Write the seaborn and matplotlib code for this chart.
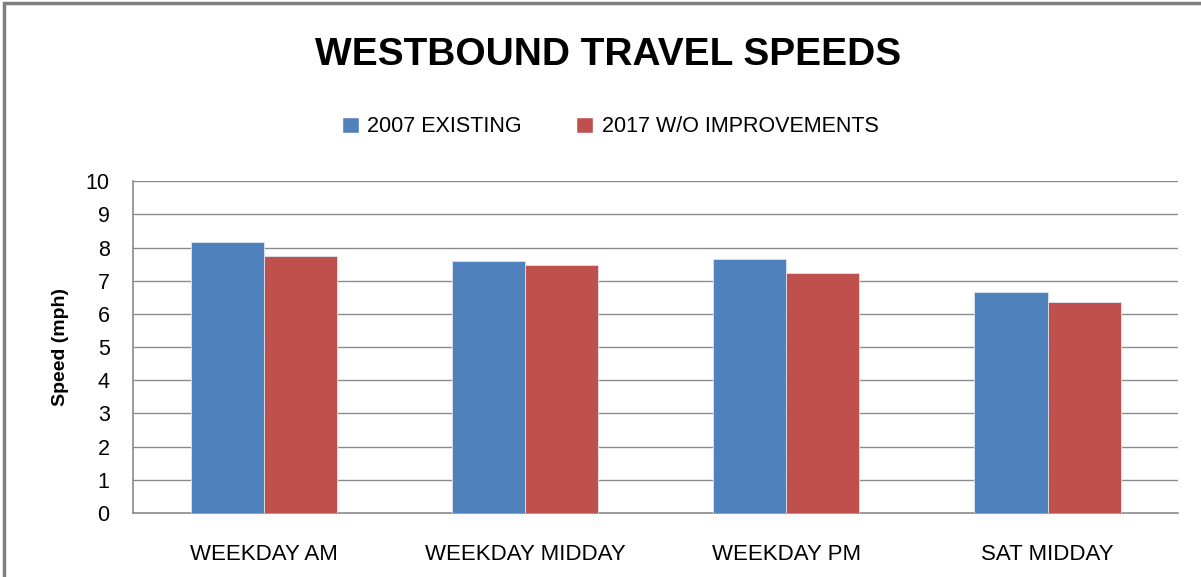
import numpy as np
import pandas as pd
import matplotlib
matplotlib.use("Agg")
import matplotlib.pyplot as plt
import seaborn as sns
from matplotlib.patches import Rectangle

# chart values
periods = ["WEEKDAY AM", "WEEKDAY MIDDAY", "WEEKDAY PM", "SAT MIDDAY"]
series_names = ["2007 EXISTING", "2017 W/O IMPROVEMENTS"]
speeds_2007 = [8.17, 7.59, 7.66, 6.66]
speeds_2017 = [7.75, 7.47, 7.24, 6.36]
y_ticks = list(range(0, 11))

colors = ["#4F81BD", "#C0504D"]
grid_col = "#8C8C8C"

df = pd.DataFrame({
    "Period": periods * 2,
    "Series": [series_names[0]] * len(periods) + [series_names[1]] * len(periods),
    "Speed": speeds_2007 + speeds_2017,
})

sns.set_style("white")
plt.rcParams["font.family"] = ["Liberation Sans", "DejaVu Sans"]
plt.rcParams["text.color"] = "black"
plt.rcParams["xtick.color"] = "black"
plt.rcParams["ytick.color"] = "black"
plt.rcParams["axes.labelcolor"] = "black"

fig = plt.figure(figsize=(12.01, 5.77), dpi=100)
ax = fig.add_axes([0.111, 0.111, 0.870, 0.575])

sns.barplot(data=df, x="Period", y="Speed", hue="Series", palette=colors,
            saturation=1, width=0.56, edgecolor="#DDE6F0", linewidth=0.6,
            ax=ax, legend=False, zorder=3)

ax.set_ylim(0, 10)
ax.set_yticks(y_ticks)
ax.set_yticklabels([str(t) for t in y_ticks], fontsize=15.5)
ax.set_xlim(-0.5, len(periods) - 0.5)
ax.yaxis.grid(True, color=grid_col, linewidth=1.0, zorder=0)
ax.set_axisbelow(True)

# category ticks sit between groups, as in the original
ax.set_xticks(np.arange(-0.5, len(periods), 1.0))
ax.set_xticklabels([])
ax.set_xticks(range(len(periods)), minor=True)
ax.set_xticklabels(periods, minor=True, fontsize=16)
ax.tick_params(axis="x", which="major", length=8, color=grid_col, direction="out")
ax.tick_params(axis="x", which="minor", length=0, pad=22)
ax.tick_params(axis="y", length=7, color=grid_col, labelcolor="black",
               direction="out", pad=10)

for side in ["top", "right"]:
    ax.spines[side].set_visible(False)
for side in ["left", "bottom"]:
    ax.spines[side].set_color(grid_col)
    ax.spines[side].set_linewidth(1.2)

ax.set_xlabel("")
ax.set_ylabel("Speed (mph)", fontsize=14, fontweight="bold", labelpad=12)

fig.text(0.506, 0.905, "WESTBOUND TRAVEL SPEEDS", ha="center", va="center",
         fontsize=28, fontweight="bold")

handles = [Rectangle((0, 0), 1, 1, facecolor=c) for c in colors]
fig.legend(handles, series_names, loc="center", bbox_to_anchor=(0.508, 0.78),
           ncol=2, frameon=False, fontsize=15.5, handlelength=0.8, handleheight=0.8,
           handletextpad=0.4, columnspacing=2.5)

# outer chart border
fig.patches.append(Rectangle((0.003, -0.01), 1.1, 1.004, transform=fig.transFigure,
                             fill=False, edgecolor="#7F7F7F", linewidth=2.5))

fig.savefig("out.png", dpi=100)
